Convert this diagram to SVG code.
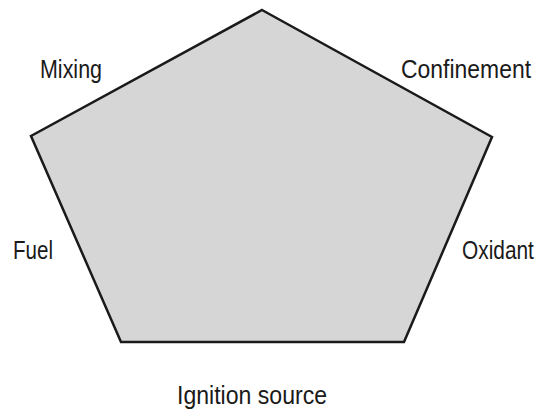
<svg xmlns="http://www.w3.org/2000/svg" width="544" height="410" viewBox="0 0 544 410">
<style>
.lbl{font-family:"Liberation Sans",Arial,sans-serif;font-size:25px;fill:#1a1a1a}
</style>
<rect width="544" height="410" fill="#ffffff"/>
<g id="pentagon">
<polygon points="262,10 492,137 404,342 121,342 31,136" fill="#d6d6d6" stroke="#1a1a1a" stroke-width="2.5" stroke-linejoin="miter"/>
</g>
<g id="connectors"></g>
<g id="mixing"><text class="lbl" x="40" y="78" textLength="62" lengthAdjust="spacingAndGlyphs">Mixing</text></g>
<g id="confinement"><text class="lbl" x="401" y="78" textLength="130" lengthAdjust="spacingAndGlyphs">Confinement</text></g>
<g id="fuel"><text class="lbl" x="13" y="259" textLength="40" lengthAdjust="spacingAndGlyphs">Fuel</text></g>
<g id="oxidant"><text class="lbl" transform="translate(462,259) scale(0.835,1)" x="0" y="0">Oxidant</text></g>
<g id="ignition"><text class="lbl" x="177" y="404" textLength="150" lengthAdjust="spacingAndGlyphs">Ignition source</text></g>
</svg>
